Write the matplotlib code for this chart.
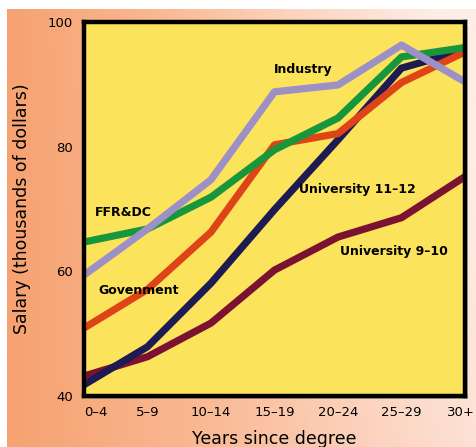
import numpy as np
import matplotlib.pyplot as plt
import matplotlib.transforms as mtransforms
from matplotlib.colors import LinearSegmentedColormap
from matplotlib.patches import Rectangle

# kategori umur sejak gelar
years = ["0–4", "5–9", "10–14", "15–19", "20–24", "25–29", "30+"]

# gaji median (ribuan dolar) per sektor
industry = [59.4, 66.8, 74.7, 88.8, 89.9, 96.3, 90.4]
ffrdc = [64.7, 66.8, 71.9, 79.5, 84.6, 94.4, 95.9]
government = [50.9, 57.1, 66.3, 80.3, 82.1, 90.3, 95.2]
univ_11_12 = [41.8, 47.9, 58.1, 69.9, 81.1, 92.6, 95.5]
univ_9_10 = [43.2, 46.3, 51.7, 60.2, 65.5, 68.6, 75.2]

W, H = 477, 447
fig = plt.figure(figsize=(W / 100, H / 100), dpi=100)
fig.patch.set_facecolor("white")

# latar gradasi oranye -> pucat
bg = fig.add_axes([7 / W, 0, 1 - 7 / W, 1 - 9 / H])
bg.set_axis_off()
bg.set_zorder(0)
gx = np.linspace(0, 1, 300)
gy = np.linspace(0, 1, 300)
GX, GY = np.meshgrid(gx, gy)
grad = np.clip(0.85 * GX + 0.25 * GY * GX, 0, 1)
cmap_bg = LinearSegmentedColormap.from_list(
    "bg", ["#F6A271", "#F9B790", "#FCD3BE", "#FEEDE6"])
bg.imshow(grad, cmap=cmap_bg, aspect="auto", origin="lower",
          extent=[0, 1, 0, 1])
bg.set_xlim(0, 1)
bg.set_ylim(0, 1)

left, right = 84 / W, 465 / W
bottom, top = 1 - 396 / H, 1 - 22 / H

# bayangan bingkai (di bawah area plot)
bg.add_patch(Rectangle(((left - 7 / W + 3 / W) / (1 - 7 / W), (bottom - 3 / H) / (1 - 9 / H)),
                       (right - left) / (1 - 7 / W), (top - bottom) / (1 - 9 / H),
                       transform=bg.transAxes, facecolor="#7a7a7a",
                       edgecolor="none", alpha=0.5, zorder=2))

ax = fig.add_axes([left, bottom, right - left, top - bottom])
ax.set_zorder(2)
ax.set_facecolor("#FCE35C")

x = np.arange(len(years))
lw = 5.2
series = [
    (univ_9_10, "#7C1232"),
    (univ_11_12, "#1E1A52"),
    (government, "#DF4318"),
    (ffrdc, "#17963C"),
    (industry, "#9D90C6"),
]
for vals, col in series:
    ax.plot(x, vals, color=col, lw=lw, solid_joinstyle="round",
            solid_capstyle="butt", zorder=3)

ax.set_xlim(0, 6)
ax.set_ylim(40, 100)
ax.set_yticks([40, 60, 80, 100])
ax.set_xticks(x)
ax.set_xticklabels(years, fontsize=9.5)
ax.tick_params(axis="both", length=0, labelsize=9.5, pad=7)
ax.tick_params(axis="y", pad=8)
xt = ax.get_xticklabels()
xt[0].set_ha("left")
xt[-1].set_ha("right")
xt[-1].set_transform(xt[-1].get_transform() +
                     mtransforms.ScaledTranslation(10 / 100, 0, fig.dpi_scale_trans))

for sp in ax.spines.values():
    sp.set_linewidth(3.2)
    sp.set_color("black")
    sp.set_zorder(5)

ax.set_xlabel("Years since degree", fontsize=12.5, labelpad=8)
ax.set_ylabel("Salary (thousands of dollars)", fontsize=12.5, labelpad=12)

# label seri langsung di dalam plot
lbl = dict(fontsize=9, fontweight="bold", color="black", zorder=6,
           ha="center", va="center", transform=fig.transFigure)
fig.text(303 / W, 1 - 70 / H, "Industry", **lbl)
fig.text(123 / W, 1 - 212 / H, "FFR&DC", **lbl)
fig.text(139 / W, 1 - 290 / H, "Govenment", **lbl)
fig.text(357 / W, 1 - 190 / H, "University 11–12", **lbl)
fig.text(394 / W, 1 - 252 / H, "University 9–10", **lbl)

fig.savefig("out.png", dpi=100)
